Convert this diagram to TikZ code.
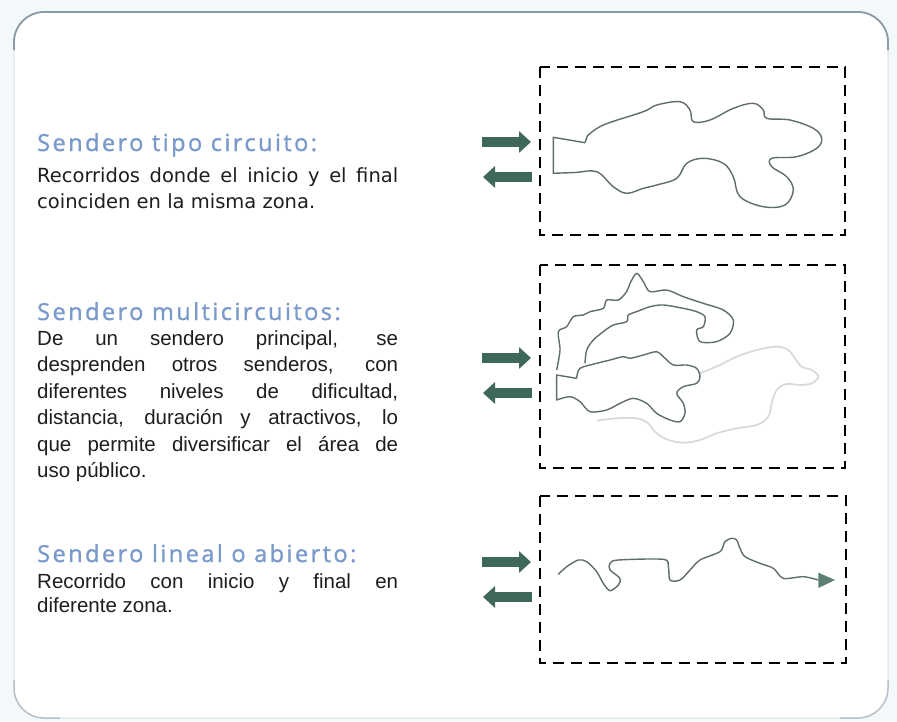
\documentclass[tikz,border=0pt]{standalone}
\usepackage{fontspec}
\setmainfont{Liberation Sans}
\newfontfamily\headfont[LetterSpace=10.5,FakeBold=1.2]{Open Sans}
\newfontfamily\bodyA{DejaVu Sans}
\usetikzlibrary{arrows.meta}
\definecolor{headblue}{RGB}{122,154,204}
\definecolor{arrowgreen}{RGB}{62,104,92}
\definecolor{trail}{RGB}{95,110,104}
\definecolor{trailfaint}{RGB}{215,220,218}
\definecolor{framegray}{RGB}{140,155,168}
\definecolor{framelight}{RGB}{228,234,238}
\definecolor{bgblue}{RGB}{243,248,251}
\definecolor{textdark}{RGB}{30,30,30}
\begin{document}
\begin{tikzpicture}[x=1pt,y=-1pt,
  heading/.style={anchor=base west, inner sep=0pt, font=\headfont\fontsize{23.5}{23.5}\selectfont, text=headblue},
  bodyline/.style={anchor=base west, inner sep=0pt, font=\fontsize{20.5}{20.5}\selectfont, text=textdark},
  bodylineA/.style={anchor=base west, inner sep=0pt, font=\bodyA\fontsize{19.5}{19.5}\selectfont, text=textdark},
  zone/.style={draw=black, line width=2.6pt, dash pattern=on 11pt off 7pt},
  trailline/.style={draw=trail, line width=1.4pt, line join=round},
  faintline/.style={draw=trailfaint, line width=1.8pt, line join=round},
  fatarrow/.style={draw=arrowgreen, line width=10pt, -{Triangle[length=12pt,width=21pt]}},
]
\useasboundingbox (0,0) rectangle (897,721);
\fill[bgblue] (0,0) rectangle (897,721);
\fill[white, rounded corners=30pt] (14,12) rectangle (888,718);
\draw[framelight, line width=1.5pt, rounded corners=30pt] (14,12) rectangle (888,718);
\draw[framegray, line width=1.8pt, rounded corners=30pt] (14,50) -- (14,12) -- (888,12) -- (888,50);
\draw[framegray!60!white, line width=1.5pt, rounded corners=30pt] (14,680) -- (14,718) -- (60,718);
\draw[framegray!60!white, line width=1.5pt, rounded corners=30pt] (840,718) -- (888,718) -- (888,680);

% headings and texts
\node[heading] (h1) at (37,151) {Sendero tipo circuito:};
\node[bodylineA] (p1a) at (37,182) {\makebox[361pt][s]{Recorridos donde el inicio y el final}};
\node[bodylineA] (p1b) at (37,208) {coinciden en la misma zona.};

\node[heading] (h2) at (37,320) {Sendero multicircuitos:};
\node[bodyline] (p2a) at (37,345) {\makebox[361pt][s]{De un sendero principal, se}};
\node[bodyline] (p2b) at (37,371.5) {\makebox[361pt][s]{desprenden otros senderos, con}};
\node[bodyline] (p2c) at (37,398) {\makebox[361pt][s]{diferentes niveles de dificultad,}};
\node[bodyline] (p2d) at (37,424.5) {\makebox[361pt][s]{distancia, duración y atractivos, lo}};
\node[bodyline] (p2e) at (37,451) {\makebox[361pt][s]{que permite diversificar el área de}};
\node[bodyline] (p2f) at (37,477) {uso público.};

\node[heading] (h3) at (37,562) {Sendero lineal o abierto:};
\node[bodyline] (p3a) at (37,588) {\makebox[361pt][s]{Recorrido con inicio y final en}};
\node[bodyline] (p3b) at (37,612) {diferente zona.};

% dashed zones
\draw[zone] (540,67) rectangle (845,235);
\draw[zone] (540,265) rectangle (845,468);
\draw[zone] (540,496) rectangle (846,663);

% arrows
\coordinate (a1s) at (482,142); \coordinate (a1e) at (531,142);
\coordinate (b1s) at (532,177); \coordinate (b1e) at (483,177);
\coordinate (a2s) at (482,358); \coordinate (a2e) at (531,358);
\coordinate (b2s) at (532,393); \coordinate (b2e) at (483,393);
\coordinate (a3s) at (482,562); \coordinate (a3e) at (531,562);
\coordinate (b3s) at (532,597); \coordinate (b3e) at (483,597);
\draw[fatarrow] (a1s) -- (a1e);
\draw[fatarrow] (b1s) -- (b1e);
\draw[fatarrow] (a2s) -- (a2e);
\draw[fatarrow] (b2s) -- (b2e);
\draw[fatarrow] (a3s) -- (a3e);
\draw[fatarrow] (b3s) -- (b3e);

% circuit
\draw[trailline] plot[smooth, tension=0.6] coordinates {(587.3,136) (603.3,125) (643.3,111.7) (656.7,105) (680,101.7) (690,110) (693.3,121.7) (710,120) (733.3,108.3) (753.3,103.3) (763.3,110) (766.7,118.3) (790,120) (813.3,128.3) (821.7,138.3) (816.7,148.3) (796.7,156.7) (771.7,158.3) (771.7,166.7) (786.7,176.7) (793.3,190) (785,205) (763.3,206.7) (740,196.7) (733.3,176.7) (723.3,163.3) (703.3,158.3) (686.7,163.3) (676.7,178.3) (656.7,185) (643.3,188.3) (626.7,193.3) (613.3,186.7) (596.7,171.7) (575,172.5) (553.3,173.3)} -- (553.3,137.3) -- (585,142.7) -- (587.3,136);

% multicircuit
\begin{scope}[xshift=470pt, yshift=-250pt, x=0.33333pt, y=-0.33333pt]
\draw[faintline] plot[smooth, tension=0.6] coordinates {(690,370) (750,345) (800,320) (860,300) (920,290) (955,300) (975,325) (995,350) (1025,360) (1045,380) (1025,400) (990,405) (950,402) (920,420) (905,460) (895,500) (860,525) (800,535) (740,550) (690,570) (640,578) (590,568) (555,545) (535,520) (500,505) (440,505) (380,512)};
\draw[trailline] plot[smooth, tension=0.5] coordinates {(260,360) (270,300) (265,245) (290,230) (310,200) (340,195) (360,185) (400,175) (410,150) (445,150) (470,125) (480,100) (500,70) (520,95) (540,125) (590,120) (640,140) (700,160) (760,180) (790,210) (780,250) (740,275) (690,275) (680,240) (700,230) (705,200) (680,185) (640,175) (580,165) (540,170) (500,185) (475,195) (470,215) (430,225) (400,245) (370,270) (350,300) (345,340)};
\draw[trailline] plot[smooth, tension=0.5] coordinates {(320,385) (330,355) (380,340) (420,330) (460,320) (480,325) (520,315) (560,305) (580,320) (610,345) (650,345) (680,355) (690,380) (680,400) (640,410) (620,430) (640,460) (645,490) (630,515) (600,510) (560,490) (530,460) (490,445) (450,460) (410,480) (360,485) (330,455) (300,440) (260,450)} -- (260,375) -- (320,385);
\end{scope}

% linear
\begin{scope}[xshift=470pt, yshift=-480pt, x=0.33333pt, y=-0.33333pt]
\draw[trailline] plot[smooth, tension=0.5] coordinates {(265,283) (290,260) (325,240) (350,245) (380,275) (400,310) (420,332) (445,315) (450,295) (420,270) (420,250) (445,240) (580,238) (595,260) (600,300) (630,300) (660,270) (690,240) (740,220) (755,210) (765,185) (785,175) (800,180) (810,205) (825,230) (870,250) (910,265) (940,295) (1000,290) (1045,300)};
\fill[arrowgreen!85!white] (1045,278) -- (1095,300) -- (1045,324) -- cycle;
\end{scope}
\end{tikzpicture}
\end{document}
